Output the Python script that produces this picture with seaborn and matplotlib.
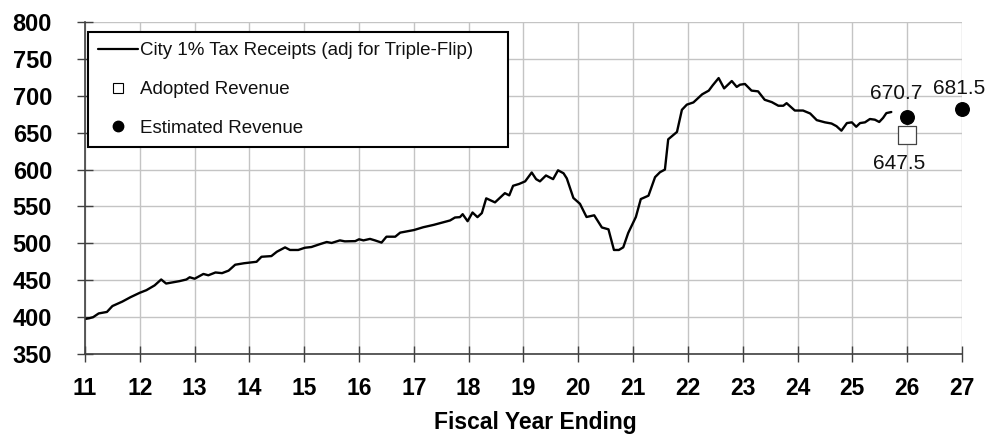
import matplotlib
matplotlib.use("Agg")
import matplotlib.pyplot as plt
import seaborn as sns
from matplotlib.lines import Line2D

# ---- data ----
years = [11.00, 11.08, 11.15, 11.25, 11.40, 11.50, 11.68, 11.83, 12.00, 12.12,
         12.27, 12.39, 12.48, 12.72, 12.85, 12.91, 13.00, 13.16, 13.25, 13.38,
         13.50, 13.62, 13.74, 13.90, 14.13, 14.22, 14.40, 14.50, 14.65, 14.74,
         14.89, 15.01, 15.13, 15.29, 15.41, 15.50, 15.65, 15.74, 15.93, 16.00,
         16.08, 16.20, 16.29, 16.41, 16.50, 16.66, 16.75, 16.93, 17.00, 17.17,
         17.36, 17.54, 17.66, 17.75, 17.84, 17.89, 17.98, 18.07, 18.16, 18.24,
         18.32, 18.48, 18.66, 18.74, 18.81, 18.92, 19.03, 19.15, 19.23, 19.30,
         19.41, 19.54, 19.63, 19.73, 19.79, 19.91, 20.03, 20.15, 20.29, 20.43,
         20.55, 20.65, 20.74, 20.82, 20.91, 21.05, 21.14, 21.28, 21.40, 21.49,
         21.58, 21.64, 21.80, 21.89, 21.98, 22.10, 22.26, 22.38, 22.45, 22.56,
         22.66, 22.80, 22.89, 22.95, 23.04, 23.16, 23.28, 23.40, 23.53, 23.65,
         23.74, 23.80, 23.95, 24.10, 24.23, 24.35, 24.50, 24.62, 24.71, 24.80,
         24.90, 24.99, 25.07, 25.14, 25.23, 25.32, 25.41, 25.49, 25.56, 25.62,
         25.71]
receipts = [397.5, 398.5, 400.0, 405.0, 407.0, 415.0, 421.0, 427.0, 433.0, 436.5,
            443.0, 451.0, 445.5, 448.7, 451.0, 454.0, 452.0, 458.5, 456.7, 460.5,
            459.6, 463.0, 471.0, 473.0, 475.0, 481.8, 482.7, 488.6, 494.5, 491.0,
            491.0, 494.0, 495.0, 499.0, 501.8, 500.5, 504.0, 502.7, 503.0, 505.5,
            504.0, 506.0, 504.0, 501.0, 509.0, 509.0, 514.5, 517.0, 518.0, 521.8,
            525.0, 528.6, 531.0, 535.0, 535.5, 539.5, 530.0, 541.8, 535.5, 541.0,
            561.0, 555.5, 568.0, 565.0, 578.0, 580.5, 584.0, 596.0, 587.0, 584.0,
            592.0, 587.0, 599.0, 595.0, 588.0, 561.5, 553.6, 535.7, 538.0, 521.5,
            519.0, 491.0, 491.0, 494.6, 514.0, 535.7, 560.0, 564.6, 589.7, 596.4,
            600.0, 641.0, 651.0, 681.0, 688.0, 691.0, 702.0, 707.0, 714.0, 724.0,
            710.0, 720.0, 712.0, 715.0, 716.0, 707.0, 706.0, 694.6, 691.4, 686.5,
            686.5, 690.0, 680.0, 680.0, 676.0, 667.0, 664.0, 662.4, 658.8, 652.7,
            663.0, 664.0, 658.0, 663.0, 664.0, 668.5, 667.6, 664.5, 670.0, 676.5,
            678.0]

adopted_years = [26]
adopted_values = [647.5]
estimated_years = [26, 27]
estimated_values = [670.7, 681.5]

x_ticks = list(range(11, 28))
y_ticks = list(range(350, 801, 50))
legend_labels = ["City 1% Tax Receipts (adj for Triple-Flip)",
                 "Adopted Revenue", "Estimated Revenue"]
x_title = "Fiscal Year Ending"

# ---- style ----
sns.set_theme(style="whitegrid")
plt.rcParams["font.family"] = ["Liberation Sans", "DejaVu Sans"]

fig = plt.figure(figsize=(9.87, 4.41), dpi=100)
ax = fig.add_axes([85 / 987, 1 - 354 / 441, 877 / 987, 332 / 441])
ax.set_facecolor("white")

sns.lineplot(x=years, y=receipts, color="black", lw=1.7, ax=ax,
             sort=False, estimator=None)
ax.scatter(estimated_years, estimated_values, s=95, color="black",
           zorder=5, clip_on=False)
ax.scatter(adopted_years, adopted_values, marker="s", s=185,
           facecolor="white", edgecolor="#444444", linewidth=0.9,
           zorder=5, clip_on=False)

# value labels
ax.annotate(f"{estimated_values[0]:.1f}", (estimated_years[0], estimated_values[0]),
            xytext=(-8, 17), textcoords="offset points", ha="center", va="center",
            fontsize=15, color="#111111")
ax.annotate(f"{estimated_values[1]:.1f}", (estimated_years[1], estimated_values[1]),
            xytext=(-2, 15), textcoords="offset points", ha="center", va="center",
            fontsize=15, color="#111111", annotation_clip=False)
ax.annotate(f"{adopted_values[0]:.1f}", (adopted_years[0], adopted_values[0]),
            xytext=(-6, -21), textcoords="offset points", ha="center", va="center",
            fontsize=15, color="#111111")

ax.set_xlim(11, 27)
ax.set_ylim(350, 800)
ax.set_xticks(x_ticks, labels=[str(t) for t in x_ticks], fontsize=16.5,
              fontweight="bold")
ax.set_yticks(y_ticks, labels=[str(t) for t in y_ticks], fontsize=17,
              fontweight="bold")
ax.grid(True, color="#c4c4c4", lw=1.0)
for s in ["top", "right"]:
    ax.spines[s].set_visible(False)
for s in ["left", "bottom"]:
    ax.spines[s].set_visible(True)
    ax.spines[s].set_color("#404040")
    ax.spines[s].set_linewidth(1.2)
ax.tick_params(axis="both", direction="inout", length=11.5, width=1.0,
               color="#404040", labelcolor="black")
ax.tick_params(axis="y", pad=18, left=True)
ax.tick_params(axis="x", pad=11, bottom=True)

ax.set_xlabel(x_title, fontsize=16.5, fontweight="bold", color="black")
ax.xaxis.label.set_va("center")
ax.xaxis.set_label_coords(0.513, -0.205)
ax.set_ylabel("")

handles = [
    Line2D([], [], color="black", lw=1.6),
    Line2D([], [], marker="s", ls="none", markerfacecolor="white",
           markeredgecolor="black", markersize=7, markeredgewidth=0.8),
    Line2D([], [], marker="o", ls="none", color="black", markersize=7.5),
]
leg = ax.legend(handles, legend_labels, loc="upper left",
                bbox_to_anchor=(0.0034, 0.578, 0.479, 0.392), mode="expand",
                borderaxespad=0, fontsize=13.5, frameon=True, fancybox=False,
                edgecolor="black", framealpha=1, handlelength=2.1,
                handletextpad=0.15, labelspacing=1.15, borderpad=0.55)
leg.get_frame().set_linewidth(1.5)
for t in leg.get_texts():
    t.set_color("#111111")

fig.savefig("out.png", dpi=100, facecolor="white")
